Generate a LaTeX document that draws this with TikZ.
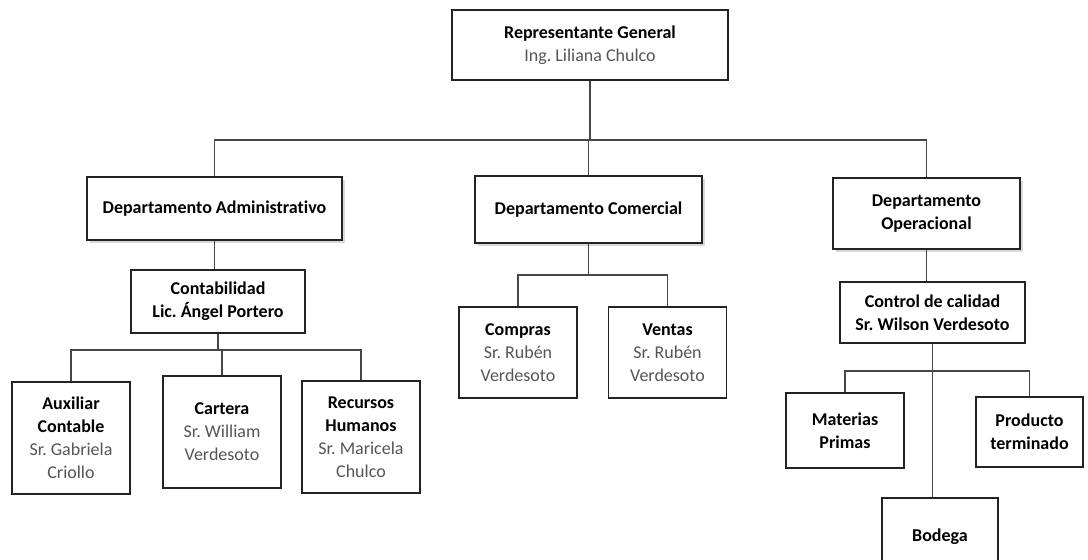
\documentclass[tikz,border=0pt]{standalone}
\usepackage{fontspec}
\setmainfont{Carlito}[Ligatures=NoCommon]
\usepackage{tikz}
\usetikzlibrary{positioning, shadows}
\usepackage{xcolor}
\definecolor{boxline}{RGB}{35,35,35}
\definecolor{linkline}{RGB}{70,70,70}
\definecolor{nametext}{RGB}{85,85,85}
\frenchspacing

\tikzset{
  unit/.style={rectangle, draw=boxline, line width=0.9pt, fill=white,
               align=center, inner sep=2pt, font=\fontsize{12.8}{16.3}\selectfont},
  dept/.style={unit, drop shadow={opacity=0.3, shadow xshift=2pt, shadow yshift=-2pt}},
  link/.style={draw=linkline, line width=0.8pt},
}
\newcommand{\who}[1]{\textcolor{nametext}{#1}}

\begin{document}
\begin{tikzpicture}[x=0.025cm, y=-0.025cm]
  \useasboundingbox (0,0) rectangle (1088,560);

  % top level
  \node[unit, minimum width=6.9cm, minimum height=1.75cm] (gen) at (590,45) {
    \textbf{Representante General} \\
    \who{Ing. Liliana Chulco}
  };

  % departments
  \node[dept, minimum width=6.375cm, minimum height=1.575cm] (adm) at (214.5,208.5)
        {\textbf{Departamento Administrativo}};
  \node[dept, minimum width=5.675cm, minimum height=1.675cm] (com) at (588.5,209.5)
        {\textbf{Departamento Comercial}};
  \node[dept, minimum width=4.675cm, minimum height=1.775cm] (ope) at (926.5,213.5)
        {\textbf{Departamento} \\ \textbf{Operacional}};

  % administrativo
  \node[unit, minimum width=4.35cm, minimum height=1.575cm] (cont) at (218,301.5) {
    \textbf{Contabilidad} \\
    \textbf{Lic. Ángel Portero}
  };
  \node[unit, minimum width=2.95cm, minimum height=2.8cm] (aux) at (71,438) {
    \textbf{Auxiliar} \\ \textbf{Contable} \\ \who{Sr. Gabriela} \\ \who{Criollo}
  };
  \node[unit, minimum width=2.95cm, minimum height=2.8cm] (cart) at (222,432) {
    \textbf{Cartera} \\ \who{Sr. William} \\ \who{Verdesoto}
  };
  \node[unit, minimum width=2.95cm, minimum height=2.8cm] (rrhh) at (361,437) {
    \textbf{Recursos} \\ \textbf{Humanos} \\ \who{Sr. Maricela} \\ \who{Chulco}
  };

  % comercial
  \node[unit, minimum width=2.95cm, minimum height=2.275cm] (comp) at (518,352.5) {
    \textbf{Compras} \\ \who{Sr. Rubén} \\ \who{Verdesoto}
  };
  \node[unit, minimum width=2.95cm, minimum height=2.275cm] (vent) at (667.5,352.5) {
    \textbf{Ventas} \\ \who{Sr. Rubén} \\ \who{Verdesoto}
  };

  % operacional
  \node[unit, minimum width=4.625cm, minimum height=1.525cm] (cal) at (932.5,312.5) {
    \textbf{Control de calidad} \\
    \textbf{Sr. Wilson Verdesoto}
  };
  \node[unit, minimum width=2.95cm, minimum height=1.875cm] (mat) at (845,430.5)
        {\textbf{Materias} \\ \textbf{Primas}};
  \node[unit, minimum width=2.675cm, minimum height=1.75cm] (prod) at (1029.5,432)
        {\textbf{Producto} \\ \textbf{terminado}};
  \node[unit, minimum width=2.9cm, minimum height=1.95cm] (bod) at (940,537)
        {\textbf{Bodega}};

  % bus levels
  \coordinate (bus0) at (0,140);
  \coordinate (busA) at (0,350);
  \coordinate (busC) at (0,275);
  \coordinate (busO) at (0,371);

  % connectors
  \draw[link] (gen.south) -- (gen.south |- bus0);
  \draw[link] (adm.north) |- (ope.north |- bus0) -- (ope.north);
  \draw[link] (com.north) -- (com.north |- bus0);

  \draw[link] (adm.south) -- (adm.south |- cont.north);
  \draw[link] (cont.south) -- (cont.south |- busA);
  \draw[link] (aux.north) |- (rrhh.north |- busA) -- (rrhh.north);
  \draw[link] (cart.north) -- (cart.north |- busA);

  \draw[link] (com.south) -- (com.south |- busC);
  \draw[link] (comp.north) |- (vent.north |- busC) -- (vent.north);

  \draw[link] (ope.south) -- (ope.south |- cal.north);
  \draw[link] (cal.south) -- (cal.south |- bod.north);
  \draw[link] (mat.north) |- (prod.north |- busO) -- (prod.north);
\end{tikzpicture}
\end{document}
